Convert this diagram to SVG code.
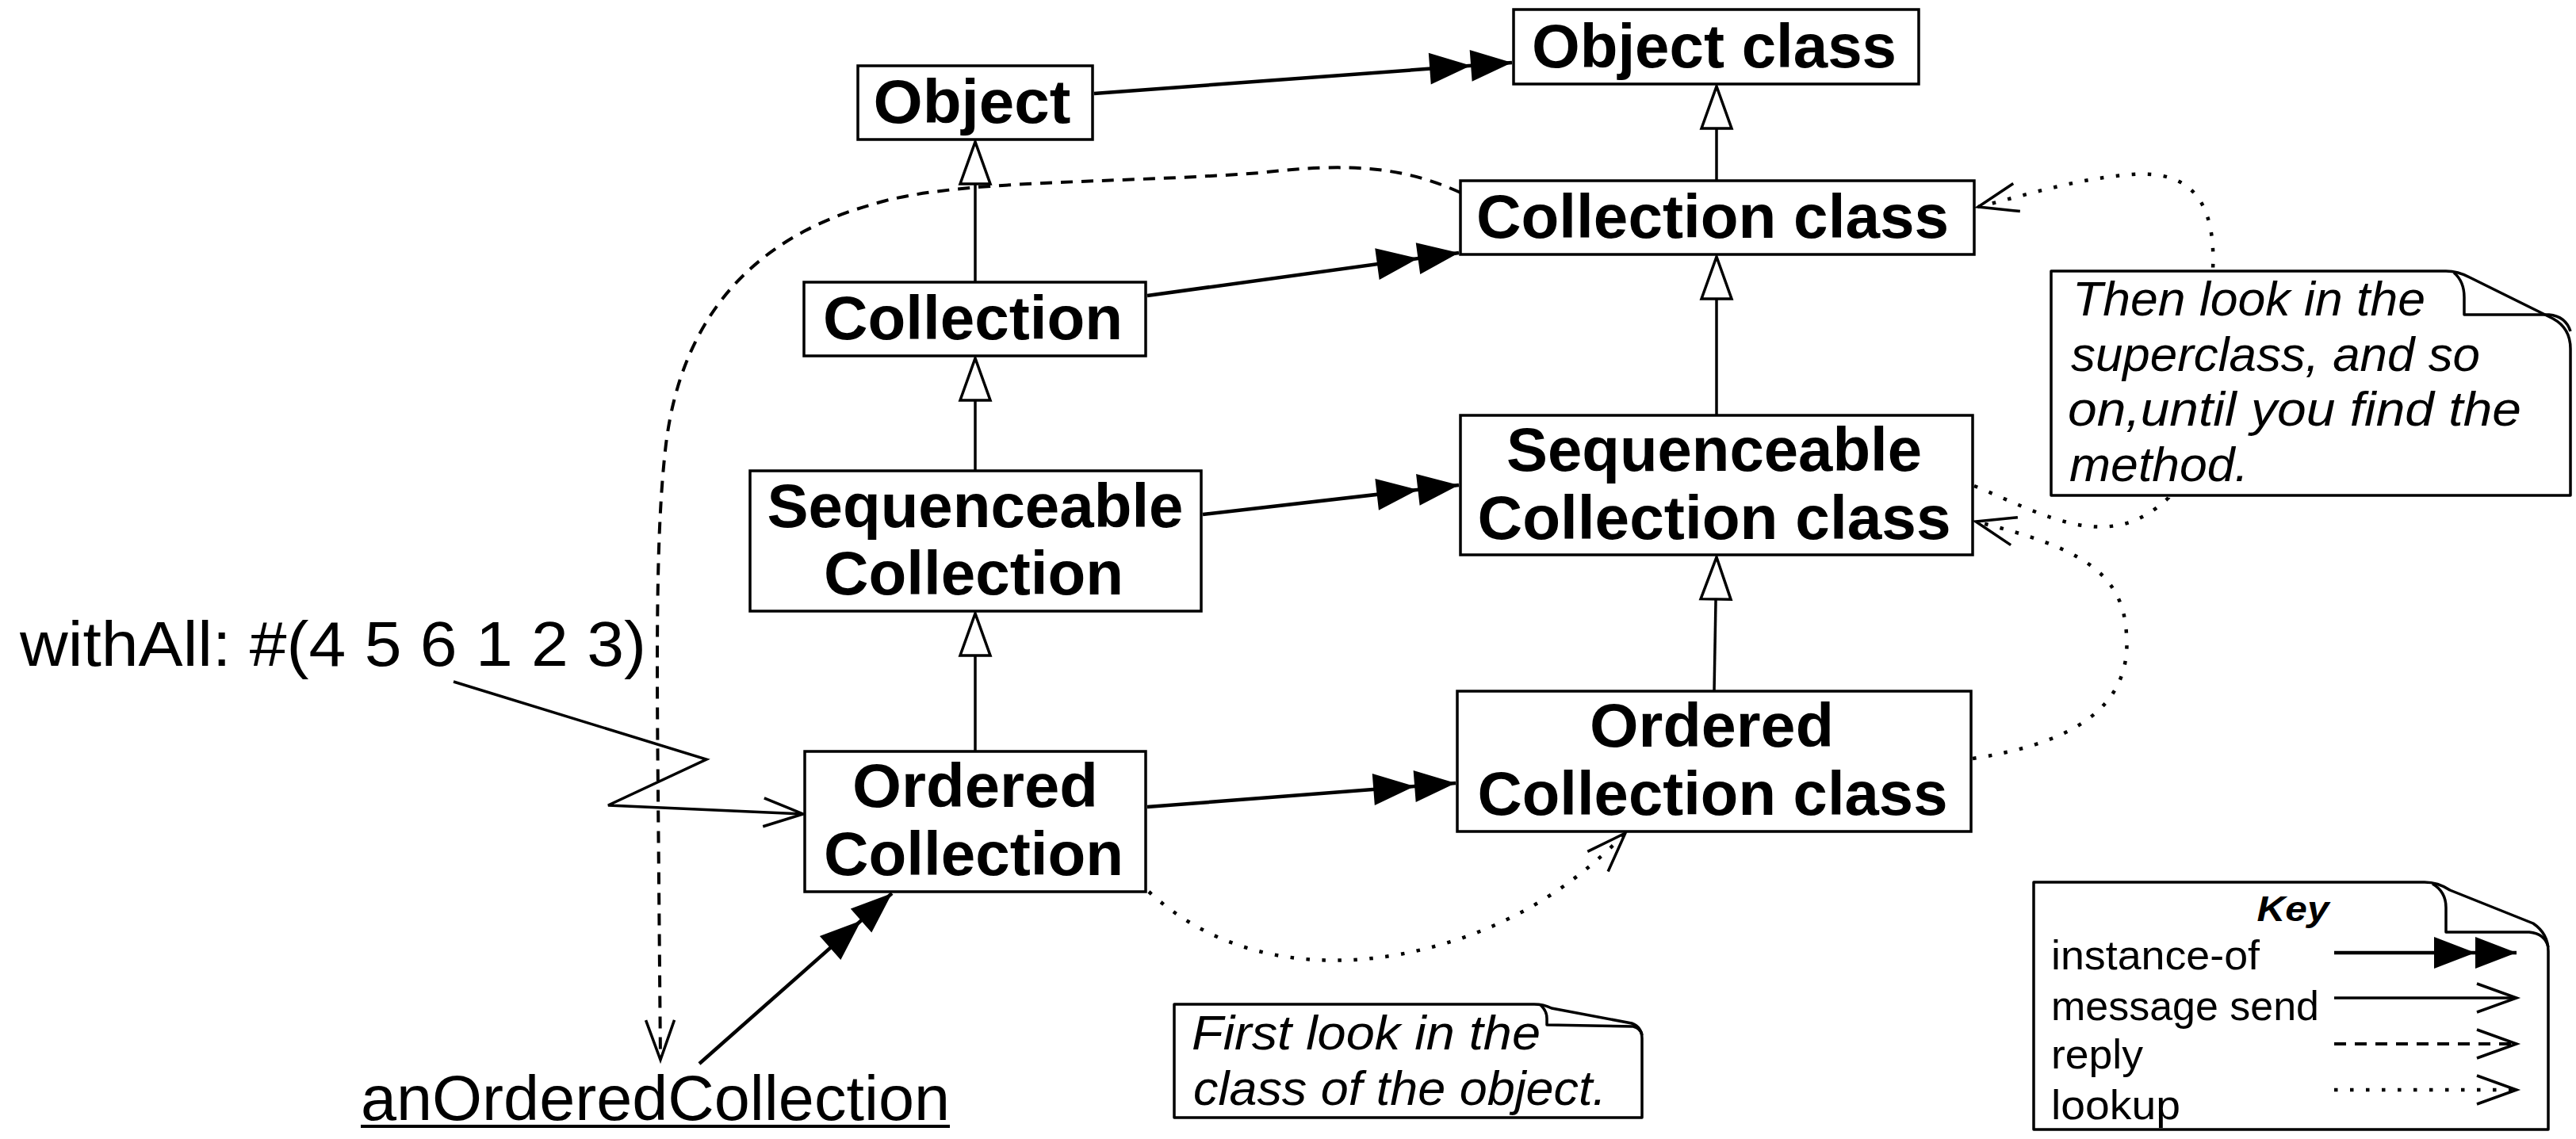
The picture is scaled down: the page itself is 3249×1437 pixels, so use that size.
<svg xmlns="http://www.w3.org/2000/svg" width="3249" height="1437" viewBox="0 0 3249 1437">
<style>
.box{fill:#fff;stroke:#000;stroke-width:3.5}
.note{fill:#fff;stroke:#000;stroke-width:3.5;stroke-linejoin:round}
.fold{fill:none;stroke:#000;stroke-width:3.5;stroke-linejoin:round}
.b{font-family:"Liberation Sans",Arial,sans-serif;font-weight:bold;font-size:78px;text-anchor:middle;fill:#000}
.r{font-family:"Liberation Sans",Arial,sans-serif;font-size:52px;fill:#000}
.big{font-family:"Liberation Sans",Arial,sans-serif;font-size:79px;fill:#000}
.keyt{font-family:"Liberation Sans",Arial,sans-serif;font-size:44px;font-weight:bold;font-style:italic;text-anchor:middle;fill:#000}
.it{font-family:"Liberation Sans",Arial,sans-serif;font-style:italic;font-size:62px;fill:#000}
.inst{fill:none;stroke:#000;stroke-width:4.5;marker-end:url(#dbl)}
.gen{fill:none;stroke:#000;stroke-width:3.5;marker-end:url(#tri)}
.msg{fill:none;stroke:#000;stroke-width:3.5;stroke-linejoin:miter;marker-end:url(#open)}
.reply{fill:none;stroke:#000;stroke-width:4;stroke-dasharray:15 11;marker-end:url(#open)}
.look{fill:none;stroke:#000;stroke-width:4.5;stroke-dasharray:4.5 15.5;marker-end:url(#open)}
</style>
<defs>
<marker id="dbl" markerUnits="userSpaceOnUse" markerWidth="110" markerHeight="50" refX="104" refY="25" orient="auto" overflow="visible">
<path d="M0,5 L52,25 L0,45 Z M52,5 L104,25 L52,45 Z" fill="#000"/>
</marker>
<marker id="tri" markerUnits="userSpaceOnUse" markerWidth="60" markerHeight="44" refX="55" refY="21" orient="auto" overflow="visible">
<path d="M2,2 L55,21 L2,40 Z" fill="#fff" stroke="#000" stroke-width="3.5"/>
</marker>
<marker id="open" markerUnits="userSpaceOnUse" markerWidth="56" markerHeight="40" refX="52" refY="20" orient="auto" overflow="visible">
<path d="M2,2 L52,20 L2,38" fill="none" stroke="#000" stroke-width="3.5"/>
</marker>
</defs>
<rect width="3249" height="1437" fill="#fff"/>

<g id="connectors">
<!-- generalization -->
<line class="gen" x1="1230" y1="356" x2="1230" y2="179"/>
<line class="gen" x1="1230" y1="594" x2="1230" y2="452"/>
<line class="gen" x1="1230" y1="948" x2="1230" y2="774"/>
<line class="gen" x1="2165" y1="228" x2="2165" y2="109"/>
<line class="gen" x1="2165" y1="524" x2="2165" y2="324"/>
<line class="gen" x1="2162" y1="872" x2="2165" y2="703"/>
<!-- instance-of -->
<line class="inst" x1="1380" y1="118" x2="1907" y2="79"/>
<line class="inst" x1="1447" y1="373" x2="1840" y2="319"/>
<line class="inst" x1="1517" y1="649" x2="1840" y2="612"/>
<line class="inst" x1="1447" y1="1018" x2="1836" y2="988"/>
<line class="inst" x1="882" y1="1342" x2="1125" y2="1127"/>
<!-- message send -->
<polyline class="msg" points="572,860 891,958 767,1016 1013,1027"/>
<!-- reply -->
<path class="reply" d="M1842,243 C1770,210 1700,205 1590,218 C1400,232 1200,226 1100,258 C950,300 860,400 840,560 C828,660 828,800 830,1000 L833,1337"/>
<!-- lookup -->
<path class="look" d="M1449,1125 C1530,1200 1640,1225 1760,1205 C1900,1180 1990,1113 2050,1051"/>
<path class="look" d="M2488,957 C2600,940 2690,900 2682,800 C2678,720 2620,690 2492,658"/>
<path class="look" d="M2490,613 C2580,650 2660,700 2735,628 L2791,340 C2795,250 2760,215 2690,220 C2620,225 2560,245 2495,261"/>
</g>

<g id="object">
<rect class="box" x="1082" y="83" width="296" height="93"/>
<text class="b" x="1226" y="155" textLength="249" lengthAdjust="spacingAndGlyphs">Object</text>
</g>
<g id="object-class">
<rect class="box" x="1909" y="12" width="511" height="94"/>
<text class="b" x="2162" y="85" textLength="460" lengthAdjust="spacingAndGlyphs">Object class</text>
</g>
<g id="collection">
<rect class="box" x="1014" y="356" width="431" height="93"/>
<text class="b" x="1227" y="428" textLength="378" lengthAdjust="spacingAndGlyphs">Collection</text>
</g>
<g id="collection-class">
<rect class="box" x="1842" y="228" width="648" height="93"/>
<text class="b" x="2160" y="300" textLength="596" lengthAdjust="spacingAndGlyphs">Collection class</text>
</g>
<g id="sequenceable-collection">
<rect class="box" x="946" y="594" width="569" height="177"/>
<text class="b" x="1230" y="665" textLength="525" lengthAdjust="spacingAndGlyphs">Sequenceable</text>
<text class="b" x="1228" y="750" textLength="378" lengthAdjust="spacingAndGlyphs">Collection</text>
</g>
<g id="sequenceable-collection-class">
<rect class="box" x="1842" y="524" width="646" height="176"/>
<text class="b" x="2162" y="594" textLength="524" lengthAdjust="spacingAndGlyphs">Sequenceable</text>
<text class="b" x="2162" y="680" textLength="597" lengthAdjust="spacingAndGlyphs">Collection class</text>
</g>
<g id="ordered-collection">
<rect class="box" x="1015" y="948" width="430" height="177"/>
<text class="b" x="1230" y="1018" textLength="310" lengthAdjust="spacingAndGlyphs">Ordered</text>
<text class="b" x="1228" y="1104" textLength="378" lengthAdjust="spacingAndGlyphs">Collection</text>
</g>
<g id="ordered-collection-class">
<rect class="box" x="1838" y="872" width="648" height="177"/>
<text class="b" x="2159" y="942" textLength="308" lengthAdjust="spacingAndGlyphs">Ordered</text>
<text class="b" x="2160" y="1028" textLength="593" lengthAdjust="spacingAndGlyphs">Collection class</text>
</g>

<g id="message-label">
<text class="big" x="25" y="840" textLength="790" lengthAdjust="spacingAndGlyphs">withAll: #(4 5 6 1 2 3)</text>
</g>
<g id="an-ordered-collection">
<text class="big" x="455" y="1413" textLength="743" lengthAdjust="spacingAndGlyphs">anOrderedCollection</text>
<line x1="455" y1="1421" x2="1198" y2="1421" stroke="#000" stroke-width="4"/>
</g>

<g id="note-superclass">
<path class="note" d="M2587,342 L3085,342 Q3100,342 3115,350 L3220,402 Q3242,414 3242,440 L3242,625 L2587,625 Z"/>
<path class="fold" d="M3095,344 Q3108,355 3108,375 L3108,397 L3215,397 Q3236,399 3242,418"/>
<text class="it" x="2614" y="398" textLength="445" lengthAdjust="spacingAndGlyphs">Then look in the</text>
<text class="it" x="2612" y="468" textLength="516" lengthAdjust="spacingAndGlyphs">superclass, and so</text>
<text class="it" x="2608" y="537" textLength="572" lengthAdjust="spacingAndGlyphs">on,until you find the</text>
<text class="it" x="2610" y="607" textLength="226" lengthAdjust="spacingAndGlyphs">method.</text>
</g>

<g id="note-first">
<path class="note" d="M1481,1267 L1935,1267 Q1947,1267 1957,1272 L2058,1291 Q2071,1296 2071,1310 L2071,1410 L1481,1410 Z"/>
<path class="fold" d="M1943,1268 Q1951,1275 1951,1285 L1951,1293 L2060,1295 Q2070,1298 2071,1306"/>
<text class="it" x="1503" y="1324" textLength="440" lengthAdjust="spacingAndGlyphs">First look in the</text>
<text class="it" x="1505" y="1394" textLength="521" lengthAdjust="spacingAndGlyphs">class of the object.</text>
</g>

<g id="key">
<path class="note" d="M2565,1113 L3058,1113 Q3075,1113 3090,1123 L3195,1165 Q3214,1178 3214,1200 L3214,1425 L2565,1425 Z"/>
<path class="fold" d="M3068,1115 Q3085,1125 3085,1145 L3085,1176 L3190,1176 Q3210,1178 3214,1195"/>
<text class="keyt" x="2892" y="1162" textLength="91" lengthAdjust="spacingAndGlyphs">Key</text>
<text class="r" x="2587" y="1223" textLength="263" lengthAdjust="spacingAndGlyphs">instance-of</text>
<text class="r" x="2587" y="1287" textLength="338" lengthAdjust="spacingAndGlyphs">message send</text>
<text class="r" x="2587" y="1348" textLength="116" lengthAdjust="spacingAndGlyphs">reply</text>
<text class="r" x="2587" y="1412" textLength="163" lengthAdjust="spacingAndGlyphs">lookup</text>
<line class="inst" x1="2944" y1="1202" x2="3174" y2="1202"/>
<line class="msg" x1="2944" y1="1259" x2="3174" y2="1259"/>
<line class="reply" x1="2944" y1="1317" x2="3174" y2="1317"/>
<line class="look" x1="2944" y1="1375" x2="3174" y2="1375"/>
</g>
</svg>
